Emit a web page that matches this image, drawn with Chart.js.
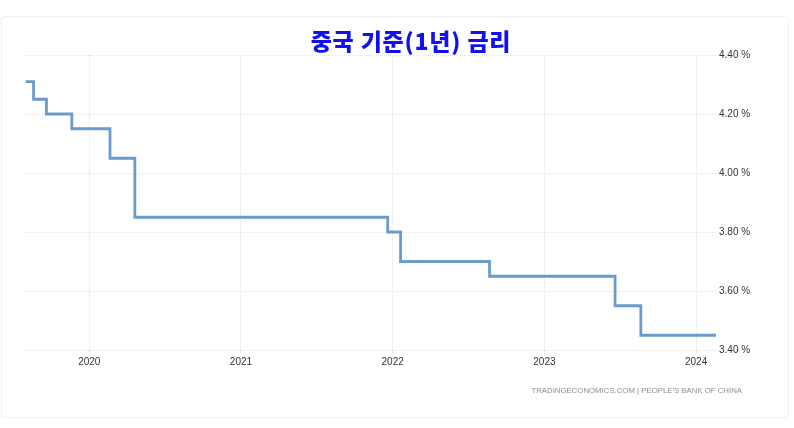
<!DOCTYPE html>
<html>
<head>
<meta charset="utf-8">
<script src="https://cdn.jsdelivr.net/npm/chart.js@4.4.1/dist/chart.umd.min.js"></script>
<style>
  html, body { margin: 0; padding: 0; background: #ffffff; }
  #wrap { position: relative; width: 794px; height: 428px; overflow: hidden; }
  #frame { position: absolute; left: 1px; top: 16px; width: 788px; height: 402px;
           border: 1px solid #f0f0f0; border-radius: 4px; box-sizing: border-box; }
  #title { position: absolute; left: 0; width: 822px; top: 25px; text-align: center;
           font-family: "Noto Sans CJK KR", sans-serif; font-weight: 900; font-size: 23px;
           letter-spacing: 0.8px; line-height: 30px; color: #1010f0; }
  #source { position: absolute; right: 52px; top: 386px;
            font-family: "Liberation Sans", Arial, sans-serif; font-size: 7.8px; color: #8c8c8c; }
  canvas { position: absolute; left: 0; top: 0; }
</style>
</head>
<body>
<div id="wrap">
  <div id="frame"></div>
  <canvas id="c" width="794" height="428"></canvas>
  <div id="title">중국 기준(1년) 금리</div>
  <div id="source">TRADINGECONOMICS.COM | PEOPLE'S BANK OF CHINA</div>
</div>
<script>
// Dates on which the rate took a new value, and the rate (%) from that date
const changeDates = ['2019-08-01','2019-08-20','2019-09-20','2019-11-20','2020-02-20','2020-04-20',
                     '2021-12-20','2022-01-20','2022-08-22','2023-06-20','2023-08-21','2024-02-18'];
const rates       = [4.31, 4.25, 4.20, 4.15, 4.05, 3.85, 3.80, 3.70, 3.65, 3.55, 3.45, 3.45];
const yearTicks   = [2020, 2021, 2022, 2023, 2024];
const rateTicks   = [3.40, 3.60, 3.80, 4.00, 4.20, 4.40];
const xRange      = ['2019-07-28', '2024-02-18'];

function toYear(s) {
  const d = new Date(s + 'T00:00:00Z');
  const y = d.getUTCFullYear();
  const start = Date.UTC(y, 0, 1), end = Date.UTC(y + 1, 0, 1);
  return y + (d.getTime() - start) / (end - start);
}

const points = changeDates.map((d, i) => ({ x: toYear(d), y: rates[i] }));

Chart.defaults.font.family = '"Liberation Sans", Arial, sans-serif';

new Chart(document.getElementById('c'), {
  type: 'line',
  data: {
    datasets: [{
      data: points,
      stepped: 'before',
      borderColor: '#6a9bcc',
      borderWidth: 2.8,
      pointRadius: 0,
      fill: false
    }]
  },
  options: {
    responsive: false,
    animation: false,
    events: [],
    layout: { padding: { left: 24, top: 55, right: 0, bottom: 0 } },
    plugins: { legend: { display: false }, tooltip: { enabled: false }, title: { display: false } },
    scales: {
      x: {
        type: 'linear',
        min: toYear(xRange[0]),
        max: toYear(xRange[1]),
        afterBuildTicks: s => { s.ticks = yearTicks.map(v => ({ value: v })); },
        afterFit: s => { s.height = 78; },
        grid: { color: '#e3e3e3', lineWidth: 1, tickLength: 3, drawTicks: true },
        border: { display: false, dash: [1, 1] },
        ticks: { color: '#333333', font: { size: 10 }, padding: 3, maxRotation: 0,
                 callback: v => String(v) }
      },
      y: {
        position: 'right',
        min: 3.40,
        max: 4.40,
        afterBuildTicks: s => { s.ticks = rateTicks.map(v => ({ value: v })); },
        afterFit: s => { s.width = 78; },
        grid: { color: '#e3e3e3', lineWidth: 1, tickLength: 0, drawTicks: false },
        border: { display: false, dash: [1, 1] },
        ticks: { color: '#333333', font: { size: 10 }, padding: 3,
                 callback: v => v.toFixed(2) + ' %' }
      }
    }
  }
});
</script>
</body>
</html>
